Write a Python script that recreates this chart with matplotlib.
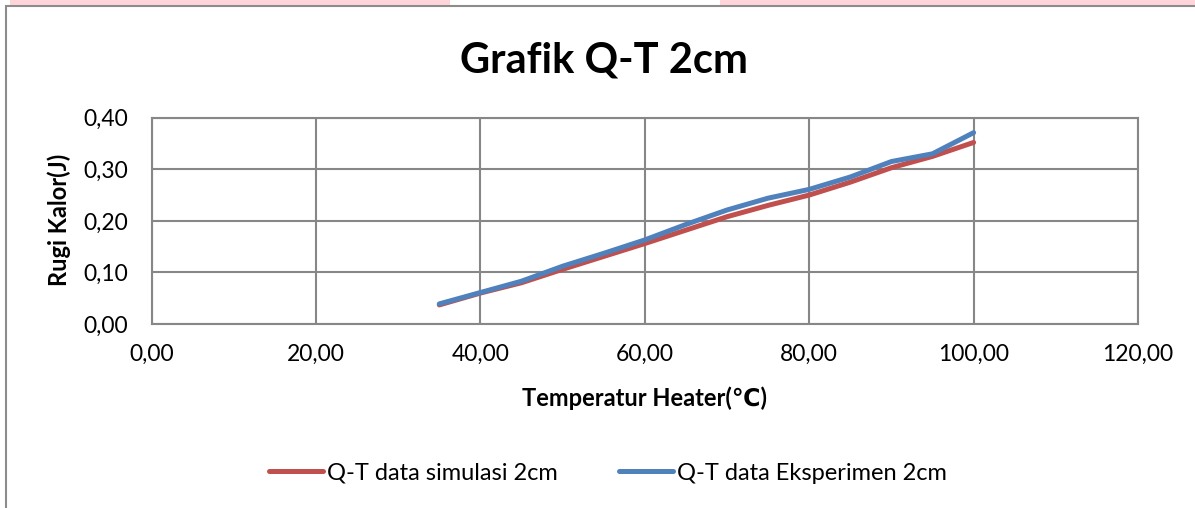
import numpy as np
import matplotlib.pyplot as plt
from matplotlib.patches import Rectangle

plt.rcParams['font.family'] = ['Lato', 'DejaVu Sans']

# data
suhu = [35, 40, 45, 50, 55, 60, 65, 70, 75, 80, 85, 90, 95, 100]
q_simulasi = [0.037, 0.060, 0.080, 0.106, 0.131, 0.156, 0.182, 0.208, 0.230, 0.250, 0.275, 0.303, 0.325, 0.352]
q_eksperimen = [0.039, 0.061, 0.083, 0.112, 0.137, 0.163, 0.193, 0.221, 0.244, 0.261, 0.285, 0.315, 0.330, 0.371]

x_ticks = [0, 20, 40, 60, 80, 100, 120]
x_labels = ['0,00', '20,00', '40,00', '60,00', '80,00', '100,00', '120,00']
y_ticks = [0.0, 0.1, 0.2, 0.3, 0.4]
y_labels = ['0,00', '0,10', '0,20', '0,30', '0,40']

grid_col = '#878787'
red = '#C0504D'
blue = '#4F81BD'
W, H = 1195, 508

fig = plt.figure(figsize=(11.95, 5.08), dpi=100)

# pink strip left over from the page above the chart
fig.add_artist(Rectangle((10/W, 1-5/H), 440/W, 5/H, transform=fig.transFigure,
                         color='#FFD5DA', lw=0))
fig.add_artist(Rectangle((720/W, 1-5/H), 475/W, 5/H, transform=fig.transFigure,
                         color='#FFD5DA', lw=0))
# chart frame
fig.add_artist(Rectangle((6/W, -0.05), 1.1, 1-6/H+0.05, transform=fig.transFigure,
                         fill=False, ec='#8C8C8C', lw=1.5))

ax = fig.add_axes([151.6/W, 1-324/H, (1138-151.6)/W, (324-117.7)/H])

ax.plot(suhu, q_simulasi, color=red, lw=3.6, solid_capstyle='round', label='Q-T data simulasi 2cm')
ax.plot(suhu, q_eksperimen, color=blue, lw=3.6, solid_capstyle='round', label='Q-T data Eksperimen 2cm')

ax.set_xlim(0, 120)
ax.set_ylim(0, 0.4)
ax.set_xticks(x_ticks)
ax.set_xticklabels(x_labels)
ax.set_yticks(y_ticks)
ax.set_yticklabels(y_labels)
ax.tick_params(length=0, labelsize=16.5)
ax.tick_params(axis='x', pad=14)
ax.tick_params(axis='y', pad=17)
ax.grid(True, color=grid_col, lw=1.5)
ax.set_axisbelow(True)
for s in ax.spines.values():
    s.set_color(grid_col)
    s.set_linewidth(1.5)

fig.text(644/W, 1-398/H, 'Temperatur Heater(℃)', ha='center', va='center',
         fontsize=17, fontweight='bold')
fig.text(59/W, 1-220/H, 'Rugi Kalor(J)', ha='center', va='center', rotation=90,
         fontsize=17, fontweight='bold')

fig.text(604/W, 1-72/H, 'Grafik Q-T 2cm', ha='center', va='baseline', fontsize=30, fontweight='bold')

fig.legend(loc='center', bbox_to_anchor=(608/W, 1-473/H), ncol=2, frameon=False,
           fontsize=17, handlelength=2.3, handletextpad=0.15, columnspacing=2.6)

fig.savefig('out.png', dpi=100)
